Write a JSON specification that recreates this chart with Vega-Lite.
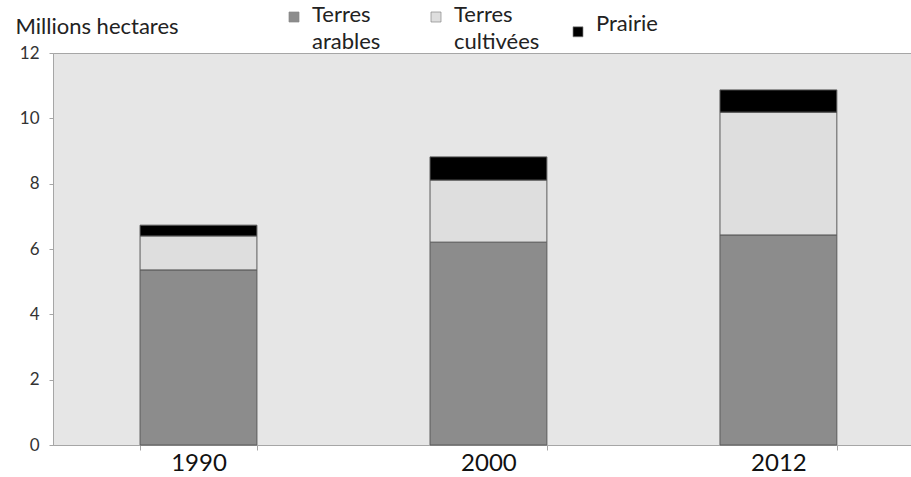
{
  "$schema": "https://vega.github.io/schema/vega-lite/v6.json",
  "width": 858,
  "height": 392,
  "autosize": {"type": "none"},
  "padding": {"left": 53, "top": 53, "right": 0, "bottom": 32},
  "background": "white",
  "config": {
    "font": "Lato, sans-serif",
    "view": {"fill": "#e6e6e6", "stroke": "#a6a6a6"}
  },
  "data": {
    "values": [
      {"year": "1990", "type": "Terres arables", "ord": 1, "value": 5.36},
      {"year": "1990", "type": "Terres cultivées", "ord": 2, "value": 1.04},
      {"year": "1990", "type": "Prairie", "ord": 3, "value": 0.33},
      {"year": "2000", "type": "Terres arables", "ord": 1, "value": 6.21},
      {"year": "2000", "type": "Terres cultivées", "ord": 2, "value": 1.90},
      {"year": "2000", "type": "Prairie", "ord": 3, "value": 0.71},
      {"year": "2012", "type": "Terres arables", "ord": 1, "value": 6.43},
      {"year": "2012", "type": "Terres cultivées", "ord": 2, "value": 3.76},
      {"year": "2012", "type": "Prairie", "ord": 3, "value": 0.68}
    ]
  },
  "mark": {"type": "bar", "stroke": "#5a5a5a", "strokeWidth": 1},
  "encoding": {
    "x": {
      "field": "year",
      "type": "nominal",
      "scale": {"paddingInner": 0.597, "paddingOuter": 0.278, "align": 0.54},
      "axis": {
        "title": null,
        "labelAngle": 0,
        "labelFontSize": 24,
        "labelColor": "#111",
        "tickBand": "extent",
        "domainColor": "#a6a6a6",
        "tickColor": "#a6a6a6",
        "tickSize": 5,
        "labelPadding": 1
      }
    },
    "y": {
      "field": "value",
      "type": "quantitative",
      "stack": "zero",
      "scale": {"domain": [0, 12]},
      "axis": {
        "values": [0, 2, 4, 6, 8, 10, 12],
        "grid": false,
        "title": "Millions hectares",
        "titleAngle": 0,
        "titleX": -38,
        "titleY": -20,
        "titleAlign": "left",
        "titleBaseline": "alphabetic",
        "titleFontSize": 22,
        "titleFontWeight": "normal",
        "titleColor": "#222",
        "labelFontSize": 17,
        "labelColor": "#333",
        "domainColor": "#a6a6a6",
        "tickColor": "#a6a6a6",
        "tickSize": 4,
        "labelPadding": 10
      }
    },
    "color": {
      "field": "type",
      "type": "nominal",
      "scale": {
        "domain": ["Terres arables", "Terres cultivées", "Prairie"],
        "range": ["#8c8c8c", "#dedede", "#000000"]
      },
      "legend": {
        "title": null,
        "orient": "none",
        "legendX": 230,
        "legendY": -47,
        "direction": "horizontal",
        "columns": 3,
        "gridAlign": "all",
        "columnPadding": 27,
        "padding": 0,
        "symbolType": "square",
        "symbolSize": 100,
        "symbolStrokeColor": "#888",
        "symbolStrokeWidth": 0.7,
        "labelFontSize": 22,
        "labelColor": "#222",
        "labelBaseline": "alphabetic",
        "labelOffset": 7,
        "labelExpr": "datum.label == 'Prairie' ? 'Prairie' : split(datum.label, ' ')",
        "encode": {
          "labels": {
            "update": {
              "lineHeight": {"value": 27},
              "dy": {"signal": "datum.value == 'Prairie' ? -1 : 5"}
            }
          }
        }
      }
    },
    "order": {"field": "ord", "type": "quantitative"}
  }
}
